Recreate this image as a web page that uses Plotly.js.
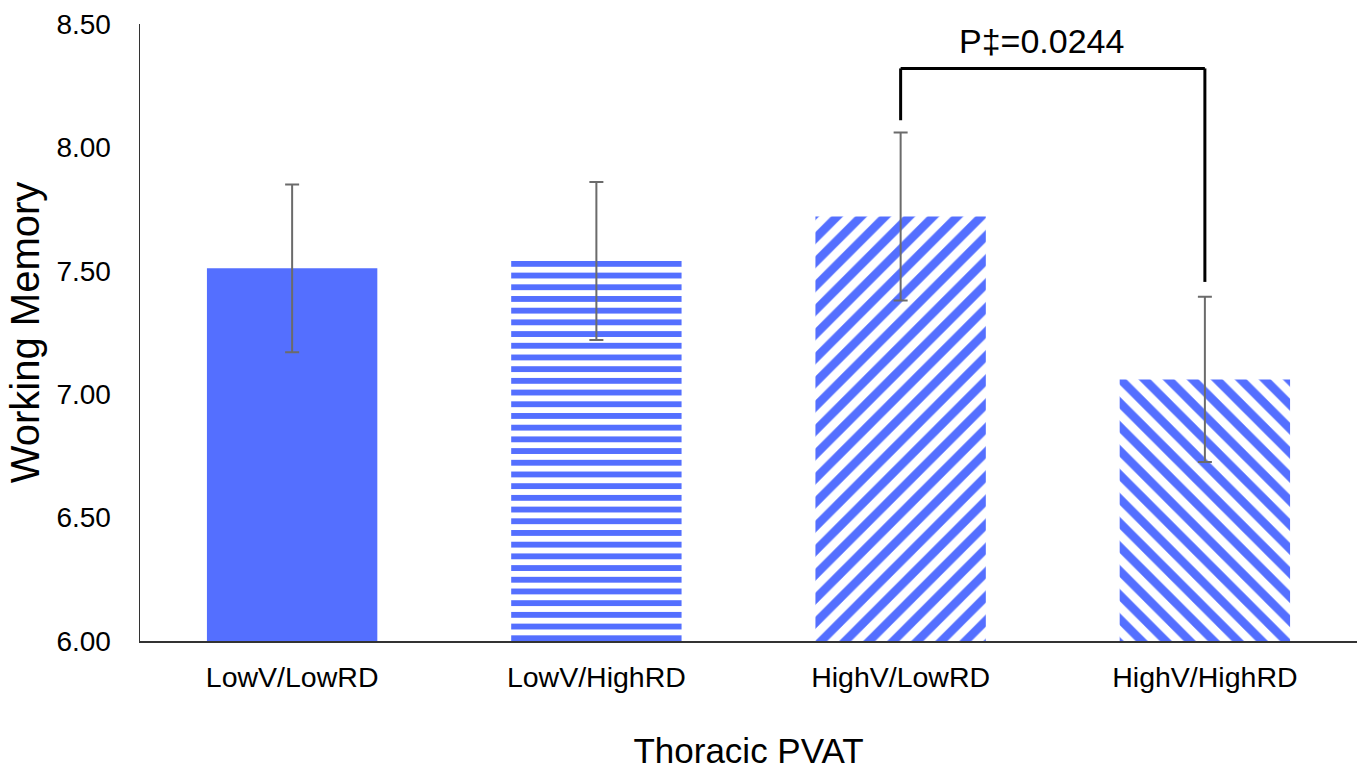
<!DOCTYPE html>
<html>
<head>
<meta charset="utf-8">
<script src="https://cdn.plot.ly/plotly-3.0.1.min.js"></script>
<style>
  html, body { margin: 0; padding: 0; background: #ffffff; }
  #chart { width: 1363px; height: 770px; }
</style>
</head>
<body>
<div id="chart"></div>
<script>
// ---- Data ----
const categories = ["LowV/LowRD", "LowV/HighRD", "HighV/LowRD", "HighV/HighRD"];
const means = [7.51, 7.54, 7.72, 7.06];
const errors = [0.34, 0.32, 0.34, 0.335];
const patternShapes = ["", "-", "/", "\\"];
const yTickVals = [6.0, 6.5, 7.0, 7.5, 8.0, 8.5];
const bracketLeftCat = "HighV/LowRD";
const bracketRightCat = "HighV/HighRD";
const bracketTopY = 8.32;
const bracketLeftBottomY = 8.11;
const bracketRightBottomY = 7.455;
const pLabel = "P\u2021=0.0244";
const pLabelY = 8.43;

const barColor = "#546FFF";
const font = "Liberation Sans, Arial, Helvetica, sans-serif";

const trace = {
  type: "bar",
  x: categories,
  y: means,
  marker: {
    color: barColor,
    line: { width: 0 },
    pattern: {
      shape: patternShapes,
      fgcolor: barColor,
      bgcolor: "#ffffff",
      fillmode: "replace",
      size: [10, 11.7, 17, 17],
      solidity: [0.5, 0.5, 0.5, 0.5]
    }
  },
  error_y: {
    type: "data",
    array: errors,
    visible: true,
    color: "#6b6b6b",
    thickness: 2,
    width: 7
  },
  hoverinfo: "none"
};

const layout = {
  width: 1363,
  height: 770,
  margin: { l: 140, r: 6, t: 24, b: 129 },
  paper_bgcolor: "#ffffff",
  plot_bgcolor: "#ffffff",
  showlegend: false,
  bargap: 0.44,
  font: { family: font, color: "#000000" },
  xaxis: {
    type: "category",
    showline: true,
    linecolor: "#333333",
    linewidth: 1.5,
    ticks: "",
    showgrid: false,
    zeroline: false,
    tickfont: { family: font, size: 28.5, color: "#000" },
    ticklabelstandoff: 10,
    title: { text: "Thoracic PVAT", font: { family: font, size: 35, color: "#000" }, standoff: 48 }
  },
  yaxis: {
    range: [6, 8.5],
    tickvals: yTickVals,
    tickformat: ".2f",
    showline: true,
    linecolor: "#333333",
    linewidth: 1.5,
    ticks: "",
    showgrid: false,
    zeroline: false,
    tickfont: { family: font, size: 28, color: "#000" },
    ticklabelstandoff: 22,
    title: { text: "Working Memory", font: { family: font, size: 40, color: "#000" }, standoff: 4 }
  },
  annotations: [
    {
      xref: "x", yref: "y",
      x: 2.5, y: pLabelY,
      xshift: -11,
      text: pLabel,
      showarrow: false,
      font: { family: font, size: 34, color: "#000" }
    }
  ]
};

// Bracket built from category indices and data values
const iL = categories.indexOf(bracketLeftCat);
const iR = categories.indexOf(bracketRightCat);
layout.shapes = [
  { type: "line", xref: "x", yref: "y", x0: iL, x1: iL, y0: bracketLeftBottomY, y1: bracketTopY, line: { color: "#000", width: 3 } },
  { type: "line", xref: "x", yref: "y", x0: iL, x1: iR, y0: bracketTopY, y1: bracketTopY, line: { color: "#000", width: 3 } },
  { type: "line", xref: "x", yref: "y", x0: iR, x1: iR, y0: bracketTopY, y1: bracketRightBottomY, line: { color: "#000", width: 3 } }
];
layout.annotations[0].x = (iL + iR) / 2;

Plotly.newPlot("chart", [trace], layout, { staticPlot: true, displayModeBar: false });
</script>
</body>
</html>
